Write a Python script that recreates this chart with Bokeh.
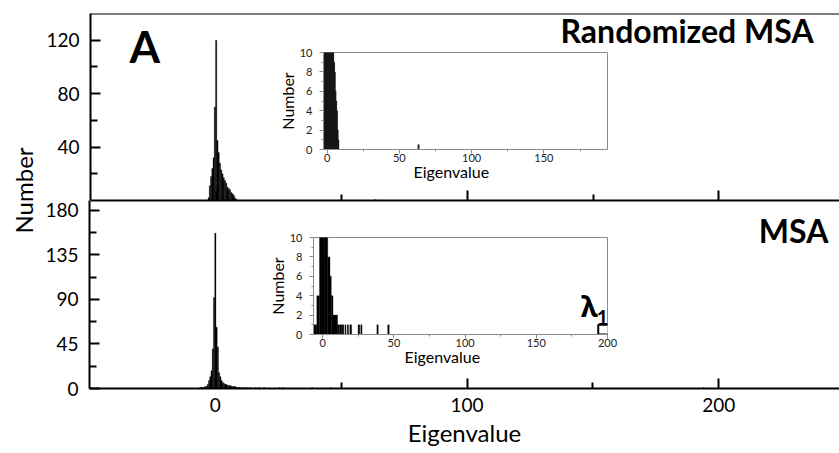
import numpy as np
from bokeh.plotting import figure
from bokeh.layouts import row
from bokeh.models import FixedTicker, Span, Label, Range1d, ColumnDataSource, Title
from bokeh.embed import file_html
from bokeh.resources import INLINE

# ---------------- data ----------------
bin_width = 0.5
# Randomized MSA eigenvalue histogram (bin centres, counts)
rand_centers = [-3.0, -2.5, -2.0, -1.5, -1.0, -0.5, 0.0, 0.5, 1.0, 1.5, 2.0, 2.5, 3.0, 3.5,
                4.0, 4.5, 5.0, 5.5, 6.0, 6.5, 7.0, 7.5, 8.0, 63.0, 63.5]
rand_counts = [2, 11, 18, 24, 32, 70, 120, 45, 36, 28, 23, 20, 17, 15,
               13, 10, 9, 8, 6, 5, 4, 2, 1, 0.5, 0.5]

# MSA eigenvalue histogram (bin centres, counts)
msa_centers = [-6.0, -5.5, -5.0, -4.5, -4.0, -3.5, -3.0, -2.5, -2.0, -1.5,
               -1.0, -0.5, 0.0, 0.5, 1.0, 1.5, 2.0, 2.5, 3.0, 3.5,
               4.0, 4.5, 5.0, 5.5, 6.0, 6.5, 7.0, 7.5, 8.0, 8.5,
               9.0, 9.5, 10.0, 11.0, 12.0, 13.0, 14.0, 16.0, 17.5, 19.5,
               25.5, 27.0, 38.5, 46.0, 194.0]
msa_counts = [1, 1, 1, 1, 2, 2, 4, 8, 12, 18,
              40, 92, 157, 62, 42, 16, 12, 8, 6, 5,
              4, 4, 3, 3, 3, 2, 2, 2, 2, 1,
              1, 1, 1, 1, 1, 1, 1, 1, 1, 1,
              1, 1, 1, 1, 1]

# MSA inset histogram (coarser bins)
inset_msa_left = [-6.4, -4.2, -2.3, -0.5, 1.5, 3.5, 5.1, 6.0, 7.2, 10.4, 12.0, 13.6,
                  15.6, 17.2, 19.0, 24.8, 26.7, 38.0, 45.6]
inset_msa_right = [-4.2, -2.3, -0.5, 1.5, 3.5, 5.1, 6.0, 7.2, 10.4, 11.8, 13.4, 14.8,
                   16.3, 18.1, 20.3, 26.0, 27.6, 39.0, 46.7]
inset_msa_count = [1, 4, 40, 90, 30, 8, 6, 4, 2, 1, 1, 1,
                   1, 1, 1, 1, 1, 1, 1]
lambda1_left, lambda1_right, lambda1_count = 193.5, 201.5, 1

# ticks
main_x_ticks = [0, 100, 200]
main_x_minor = [50, 150]
top_y_ticks = [40, 80, 120]
top_y_minor = [20, 60, 100]
bot_y_ticks = [0, 45, 90, 135, 180]
bot_y_minor = [22.5, 67.5, 112.5, 157.5]
inset_y_ticks = [0, 2, 4, 6, 8, 10]
inset_y_minor = [1, 3, 5, 7, 9]
inset1_x_ticks = [0, 50, 100, 150]
inset2_x_ticks = [0, 50, 100, 150, 200]
inset_x_minor = [25, 75, 125, 175]

FONT = "Lato"
GRAY = "#8a8a8a"


def base_fig(xr, yr, w, h, left, right, top, bottom, pos):
    p = figure(width=w, height=h, x_range=xr, y_range=yr, output_backend="svg",
               toolbar_location=None, min_border_left=left, min_border_right=right,
               min_border_top=top, min_border_bottom=bottom,
               styles={"position": "absolute", "left": f"{pos[0]}px", "top": f"{pos[1]}px"})
    p.xgrid.visible = False
    p.ygrid.visible = False
    return p


def style_main(ax, major_in, minor_in, standoff):
    ax.axis_line_width = 2
    ax.axis_line_color = "black"
    ax.major_tick_line_width = 2
    ax.minor_tick_line_width = 2
    ax.major_tick_line_color = "black"
    ax.minor_tick_line_color = "black"
    ax.major_tick_out = 0
    ax.minor_tick_out = 0
    ax.major_tick_in = major_in
    ax.minor_tick_in = minor_in
    ax.major_label_text_font = FONT
    ax.major_label_text_font_size = "19px"
    ax.major_label_text_color = "black"
    ax.major_label_standoff = standoff


def style_inset(ax, standoff):
    ax.axis_line_width = 1
    ax.axis_line_color = GRAY
    ax.major_tick_line_color = GRAY
    ax.minor_tick_line_color = GRAY
    ax.major_tick_line_width = 1
    ax.minor_tick_line_width = 1
    ax.major_tick_out = 4
    ax.major_tick_in = 0
    ax.minor_tick_out = 2
    ax.minor_tick_in = 0
    ax.major_label_text_font = FONT
    ax.major_label_text_font_size = "11px"
    ax.major_label_text_color = "#222222"
    ax.major_label_standoff = standoff


def lab(p, x, y, text, size, bold=False, align="left", baseline="alphabetic", font=FONT):
    p.add_layout(Label(x=x, y=y, text=text, text_font=font, text_font_size=size,
                       text_font_style="bold" if bold else "normal", text_color="black",
                       text_align=align, text_baseline=baseline))


rand_src = ColumnDataSource(dict(x=rand_centers, top=rand_counts))
msa_src = ColumnDataSource(dict(x=msa_centers, top=msa_counts))
inset_src = ColumnDataSource(dict(left=inset_msa_left, right=inset_msa_right, top=inset_msa_count))

# ---------------- main top panel (Randomized MSA) ----------------
p_top = base_fig(Range1d(-50, 248), Range1d(0, 140), 839, 265, 89, 0, 13, 65, (0, 0))
p_top.outline_line_color = None
p_top.border_fill_color = "white"
p_top.background_fill_color = "white"
p_top.vbar(x="x", top="top", width=bin_width, bottom=0, source=rand_src,
           fill_color="black", line_color="black", line_width=0.3)
p_top.xaxis.ticker = FixedTicker(ticks=main_x_ticks, minor_ticks=main_x_minor)
p_top.yaxis.ticker = FixedTicker(ticks=top_y_ticks, minor_ticks=top_y_minor)
style_main(p_top.xaxis[0], 10, 6, 12)
style_main(p_top.yaxis[0], 10, 7, 11)
p_top.xaxis.major_label_text_color = None
p_top.add_layout(Span(location=140, dimension="width", line_color="black", line_width=2))
lab(p_top, -34.5, 116, "A", "44px", bold=True)
lab(p_top, 237.7, 127.2, "Randomized MSA", "32px", bold=True, align="right")
p_top.add_layout(Title(text="Number", align="left", offset=-33, standoff=12,
                       text_font=FONT, text_font_size="24px", text_font_style="normal",
                       text_color="black"), "left")

# ---------------- main bottom panel (MSA) ----------------
p_bot = base_fig(Range1d(-50, 248), Range1d(0, 190), 839, 266, 89, 0, 13, 65, (0, 187))
p_bot.outline_line_color = None
p_bot.border_fill_color = None
p_bot.background_fill_color = None
p_bot.vbar(x="x", top="top", width=bin_width, bottom=0, source=msa_src,
           fill_color="black", line_color="black", line_width=0.3)
p_bot.xaxis.ticker = FixedTicker(ticks=main_x_ticks, minor_ticks=main_x_minor)
p_bot.yaxis.ticker = FixedTicker(ticks=bot_y_ticks, minor_ticks=bot_y_minor)
style_main(p_bot.xaxis[0], 10, 6, 9)
style_main(p_bot.yaxis[0], 10, 7, 11)
p_bot.xaxis.axis_label = "Eigenvalue"
p_bot.xaxis.axis_label_text_font = FONT
p_bot.xaxis.axis_label_text_font_size = "24px"
p_bot.xaxis.axis_label_text_font_style = "normal"
p_bot.xaxis.axis_label_text_color = "black"
p_bot.xaxis.axis_label_standoff = 3
lab(p_bot, 243.6, 159.6, "MSA", "32px", bold=True, align="right")


def inset_labels(p, offset):
    p.yaxis.axis_label = "Number"
    p.yaxis.axis_label_text_font = FONT
    p.yaxis.axis_label_text_font_size = "16px"
    p.yaxis.axis_label_text_font_style = "normal"
    p.yaxis.axis_label_text_color = "black"
    p.yaxis.axis_label_standoff = 0
    p.add_layout(Title(text="Eigenvalue", align="left", vertical_align="top", offset=offset,
                       standoff=-5, text_font=FONT, text_font_size="16px",
                       text_font_style="normal", text_color="black"), "below")


# ---------------- inset 1 (Randomized MSA, zoom) ----------------
p_in1 = base_fig(Range1d(-2.5, 194), Range1d(0, 10), 385, 175, 89, 12, 13, 65, (234, 39))
p_in1.border_fill_color = None
p_in1.background_fill_color = "white"
p_in1.outline_line_color = GRAY
p_in1.outline_line_width = 1
p_in1.vbar(x="x", top="top", width=bin_width, bottom=0, source=rand_src,
           fill_color="black", line_color="black", line_width=0.3)
p_in1.xaxis.ticker = FixedTicker(ticks=inset1_x_ticks, minor_ticks=inset_x_minor)
p_in1.yaxis.ticker = FixedTicker(ticks=inset_y_ticks, minor_ticks=inset_y_minor)
style_inset(p_in1.xaxis[0], 0)
style_inset(p_in1.yaxis[0], 7)
inset_labels(p_in1, 90)

# ---------------- inset 2 (MSA, zoom) ----------------
p_in2 = base_fig(Range1d(-6.5, 200), Range1d(0, 10), 395, 175, 89, 12, 13, 65, (224, 224))
p_in2.border_fill_color = None
p_in2.background_fill_color = "white"
p_in2.outline_line_color = GRAY
p_in2.outline_line_width = 1
p_in2.quad(left="left", right="right", top="top", bottom=0, source=inset_src,
           fill_color="black", line_color="black", line_width=0.3)
p_in2.quad(left=[lambda1_left], right=[lambda1_right], top=[lambda1_count], bottom=[0],
           fill_color="white", line_color="black", line_width=2)
p_in2.xaxis.ticker = FixedTicker(ticks=inset2_x_ticks, minor_ticks=inset_x_minor)
p_in2.yaxis.ticker = FixedTicker(ticks=inset_y_ticks, minor_ticks=inset_y_minor)
style_inset(p_in2.xaxis[0], 0)
style_inset(p_in2.yaxis[0], 7)
inset_labels(p_in2, 91)
lab(p_in2, 181.3, 3.0, "λ", "29px", bold=True, font="Noto Sans")
lab(p_in2, 192.5, 1.8, "1", "20px", bold=True)

layout = row(p_top, p_bot, p_in1, p_in2, width=839, height=453, sizing_mode="fixed",
             styles={"position": "relative", "overflow": "hidden"})

open("out.html", "w").write(file_html(layout, INLINE))
